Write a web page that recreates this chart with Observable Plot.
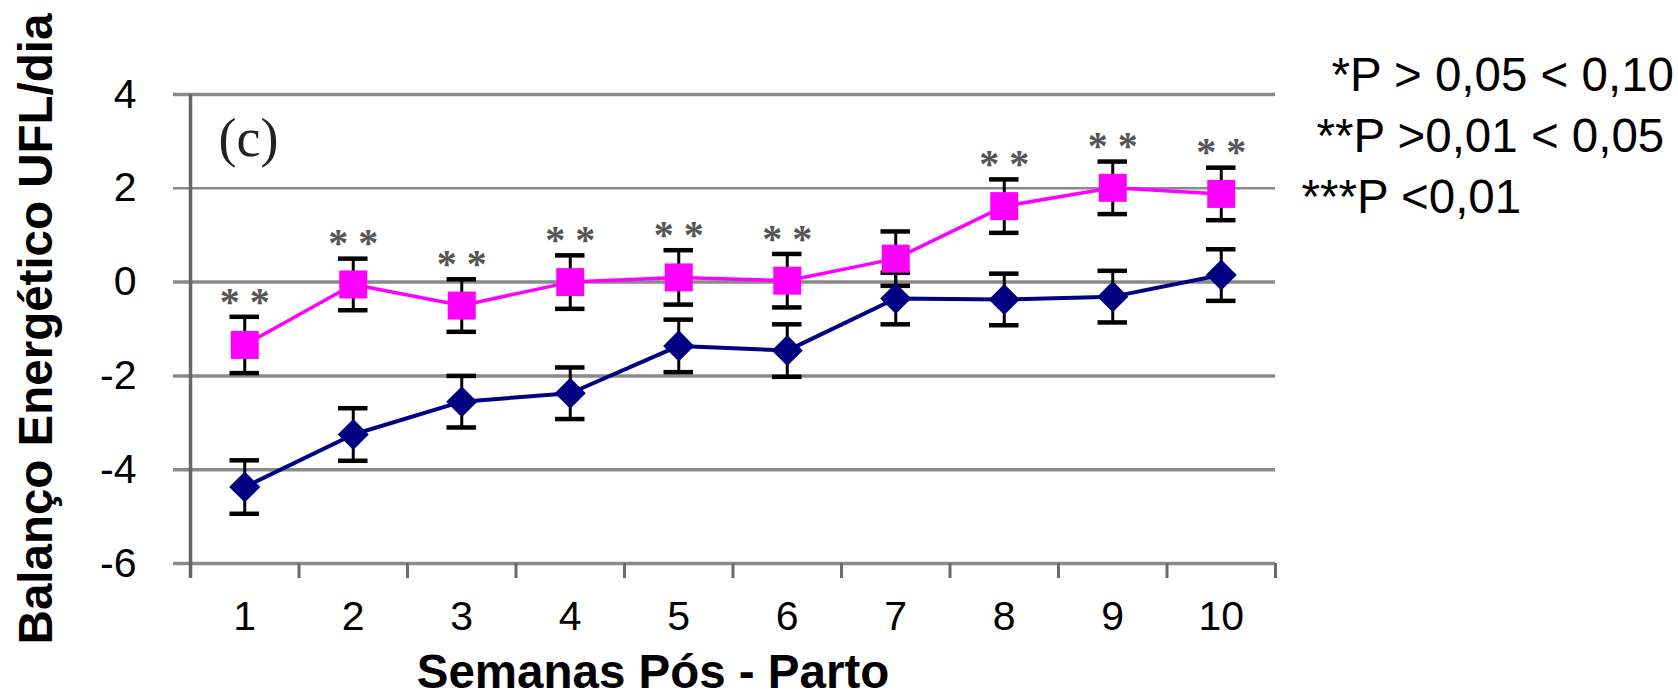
<!DOCTYPE html>
<html><head><meta charset="utf-8">
<script src="https://cdn.jsdelivr.net/npm/d3@7"></script>
<script src="https://cdn.jsdelivr.net/npm/@observablehq/plot@0.6"></script>
<style>
html,body{margin:0;padding:0;background:#fff;}
#chart{width:1678px;height:696px;overflow:hidden;}
</style></head><body><div id="chart"></div>
<script>
// ---- data ----
const weeks = [1, 2, 3, 4, 5, 6, 7, 8, 9, 10];
const pinkMean = [-1.34, -0.05, -0.50, 0.00, 0.10, 0.03, 0.50, 1.62, 2.01, 1.88];
const pinkSE   = [0.60, 0.55, 0.56, 0.57, 0.58, 0.57, 0.58, 0.57, 0.56, 0.56];
const navyMean = [-4.37, -3.25, -2.55, -2.37, -1.36, -1.46, -0.35, -0.37, -0.31, 0.15];
const navySE   = [0.57, 0.56, 0.55, 0.55, 0.56, 0.56, 0.55, 0.55, 0.55, 0.55];
const sigLabels = ["* *", "* *", "* *", "* *", "* *", "* *", "", "* *", "* *", "* *"];
const yTicks = [-6, -4, -2, 0, 2, 4];
const xBounds = [1.5, 2.5, 3.5, 4.5, 5.5, 6.5, 7.5, 8.5, 9.5, 10.5];
const xTitle = "Semanas Pós - Parto";
const yTitle = "Balanço Energético UFL/dia";
const panelLabel = "(c)";
const legendLines = ["*P > 0,05 < 0,10", "**P >0,01 < 0,05", "***P <0,01"];

// ---- build tables ----
const mk = (mean, se) => weeks.map((w, i) => ({week: w, mean: mean[i], lo: mean[i] - se[i], hi: mean[i] + se[i], sig: sigLabels[i]}));
const pinkRows = mk(pinkMean, pinkSE);
const navyRows = mk(navyMean, navySE);
const allRows = navyRows.concat(pinkRows);

const PINK = "#ff00ff", NAVY = "#000080";
const capHalf = 0.136;
const legendOffsets = [[1141, -4], [1126, 57], [1111, 118]];
const SERIF = "'Liberation Serif', 'Times New Roman', serif";

const chart = Plot.plot({
  width: 1678,
  height: 696,
  marginLeft: 190,
  marginRight: 403,
  marginTop: 94,
  marginBottom: 133,
  style: {fontFamily: "'Liberation Sans', Arial, sans-serif", background: "#fff", color: "#000", overflow: "visible"},
  x: {type: "linear", domain: [0.5, 10.5]},
  y: {type: "linear", domain: [-6, 4], axis: null},
  marks: [
    // gridlines (extend left as tick marks)
    Plot.ruleY(yTicks, {y: d => d, stroke: "#8a8a8a", strokeWidth: d => d === 2 ? 2.5 : 3.5, insetLeft: -17}),
    // vertical axis line
    Plot.ruleX([0.5], {x: d => d, y1: 4, y2: -6, insetBottom: -15, stroke: "#666", strokeWidth: 3.5}),
    // x tick marks at category boundaries
    Plot.axisX(xBounds, {tickSize: 15, tickFormat: () => "", stroke: "#6a6a6a", strokeWidth: 3, label: null}),
    // x tick labels
    Plot.axisX(weeks, {tickSize: 0, tickPadding: 37, fontSize: 41, label: null, tickFormat: d => String(d)}),
    // y tick labels
    Plot.text(yTicks, {y: d => d, text: d => String(d), frameAnchor: "left", dx: -54, fontSize: 41, fill: "#000", textAnchor: "end", lineAnchor: "middle"}),
    // error bars
    Plot.ruleX(allRows, {x: "week", y1: "lo", y2: "hi", stroke: "#000", strokeWidth: 3}),
    Plot.ruleY(allRows, {y: "hi", x1: d => d.week - capHalf, x2: d => d.week + capHalf, stroke: "#000", strokeWidth: 4.5}),
    Plot.ruleY(allRows, {y: "lo", x1: d => d.week - capHalf, x2: d => d.week + capHalf, stroke: "#000", strokeWidth: 4.5}),
    // lines
    Plot.line(navyRows, {x: "week", y: "mean", stroke: NAVY, strokeWidth: 4}),
    Plot.line(pinkRows, {x: "week", y: "mean", stroke: PINK, strokeWidth: 3.5}),
    // markers
    Plot.dot(navyRows, {x: "week", y: "mean", symbol: "diamond2", r: 14, fill: NAVY, stroke: "none"}),
    Plot.dot(pinkRows, {x: "week", y: "mean", symbol: "square", r: 15.8, fill: PINK, stroke: "none"}),
    // significance asterisks
    Plot.text(pinkRows.filter(d => d.sig), {x: "week", y: "hi", text: "sig", fontFamily: SERIF, fontSize: 40, fontWeight: "bold", fill: "#555", dy: -15, textAnchor: "middle", lineAnchor: "middle"}),
    // panel label
    Plot.text([panelLabel], {text: d => d, frameAnchor: "top-left", dx: 58, dy: 44, fontFamily: SERIF, fontSize: 54, fill: "#222", textAnchor: "middle", lineAnchor: "middle"}),
    // axis titles
    Plot.text([xTitle], {text: d => d, frameAnchor: "bottom", dx: -80, dy: 124, fontSize: 47.5, fontWeight: "bold", fill: "#000", textAnchor: "middle", lineAnchor: "bottom"}),
    Plot.text([yTitle], {text: d => d, frameAnchor: "left", rotate: -90, dx: -154, fontSize: 47.5, fontWeight: "bold", fill: "#000", textAnchor: "middle", lineAnchor: "middle"}),
    // significance legend
    ...legendLines.map((t, i) => Plot.text([t], {text: d => d, frameAnchor: "top-left", dx: legendOffsets[i][0], dy: legendOffsets[i][1], fontSize: 47.5, fill: "#000", textAnchor: "start", lineAnchor: "bottom"}))
  ]
});
document.getElementById("chart").appendChild(chart);
</script>
</body></html>
